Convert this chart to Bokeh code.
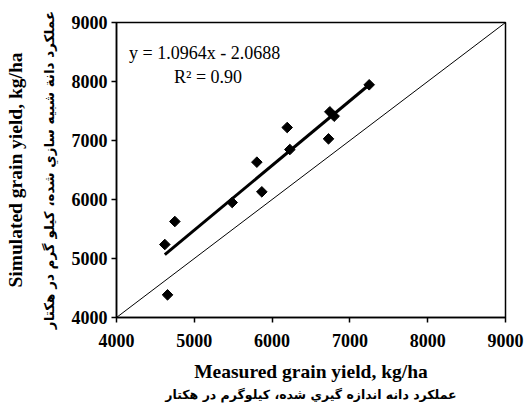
import numpy as np
from bokeh.plotting import figure
from bokeh.models import Label, Title, FixedTicker
from bokeh.embed import file_html
from bokeh.resources import INLINE

# measured (x) and simulated (y) grain yield, kg/ha
measured = [4621, 4750, 4656, 5487, 5804, 5868, 6194, 6228, 6725, 6742, 6798, 7248]
simulated = [5237, 5627, 4384, 5949, 6633, 6130, 7220, 6847, 7028, 7486, 7412, 7944]
slope, intercept = 1.0964, -2.0688
ticks = [4000, 5000, 6000, 7000, 8000, 9000]
axis_min, axis_max = 4000, 9000

x_title = "Measured grain yield, kg/ha"
x_title_fa = "عملكرد دانه اندازه گيري شده، كيلوگرم در هكتار"
y_title = "Simulated grain yield, kg/ha"
y_title_fa = "عملكرد دانة شبيه سازي شده، كيلو گرم در هكتار"
eq_text = "y = 1.0964x - 2.0688"
r2_text = "R² = 0.90"

SERIF = "Liberation Serif"

p = figure(frame_width=389, frame_height=295,
           x_range=(axis_min, axis_max), y_range=(axis_min, axis_max),
           output_backend="svg", toolbar_location=None,
           min_border_left=116, min_border_top=22, min_border_right=20, min_border_bottom=90)
p.background_fill_color = "white"
p.border_fill_color = "white"
p.outline_line_color = "black"
p.outline_line_width = 1.5
p.xgrid.visible = False
p.ygrid.visible = False

for ax in (p.xaxis[0], p.yaxis[0]):
    ax.ticker = FixedTicker(ticks=ticks)
    ax.minor_tick_line_color = None
    ax.major_tick_in = 0
    ax.major_tick_out = 5
    ax.major_tick_line_width = 1.5
    ax.axis_line_width = 1.5
    ax.axis_line_color = "black"
    ax.major_tick_line_color = "black"
    ax.major_label_text_font = SERIF
    ax.major_label_text_font_style = "bold"
    ax.major_label_text_font_size = "18px"
    ax.major_label_text_color = "black"
p.yaxis.major_label_standoff = 4
p.xaxis.major_label_standoff = 11

# x axis titles
p.xaxis.axis_label = x_title
p.xaxis.axis_label_text_font = SERIF
p.xaxis.axis_label_text_font_style = "bold"
p.xaxis.axis_label_text_font_size = "19.5px"
p.xaxis.axis_label_text_color = "black"
p.xaxis.axis_label_standoff = 11

p.add_layout(Title(text=x_title_fa, align="center", text_font="DejaVu Sans",
                   text_font_style="bold", text_font_size="12.5px", text_color="black",
                   standoff=0), "below")

# y axis titles (Persian inner, English outer)
p.add_layout(Title(text=y_title_fa, align="center", text_font="DejaVu Sans",
                   text_font_style="bold", text_font_size="13.5px", text_color="black",
                   standoff=23), "left")
p.add_layout(Title(text=y_title, align="center", text_font=SERIF,
                   text_font_style="bold", text_font_size="19.5px", text_color="black",
                   standoff=3), "left")

# 1:1 line
p.line([axis_min, axis_max], [axis_min, axis_max], line_color="black", line_width=1)

# regression line
xr = np.array([min(measured), max(measured)])
p.line(xr, slope * xr + intercept, line_color="black", line_width=3)

# data points
p.scatter(measured, simulated, marker="square", angle=np.pi / 4, size=7.5,
          fill_color="black", line_color="black")

p.add_layout(Label(x=4161, y=8486, text=eq_text, text_font=SERIF, text_font_size="18px",
                   text_baseline="middle", text_align="left", text_color="black"))
p.add_layout(Label(x=4739, y=8080, text=r2_text, text_font=SERIF, text_font_size="18px",
                   text_baseline="middle", text_align="left", text_color="black"))

open("out.html", "w").write(file_html(p, INLINE))
